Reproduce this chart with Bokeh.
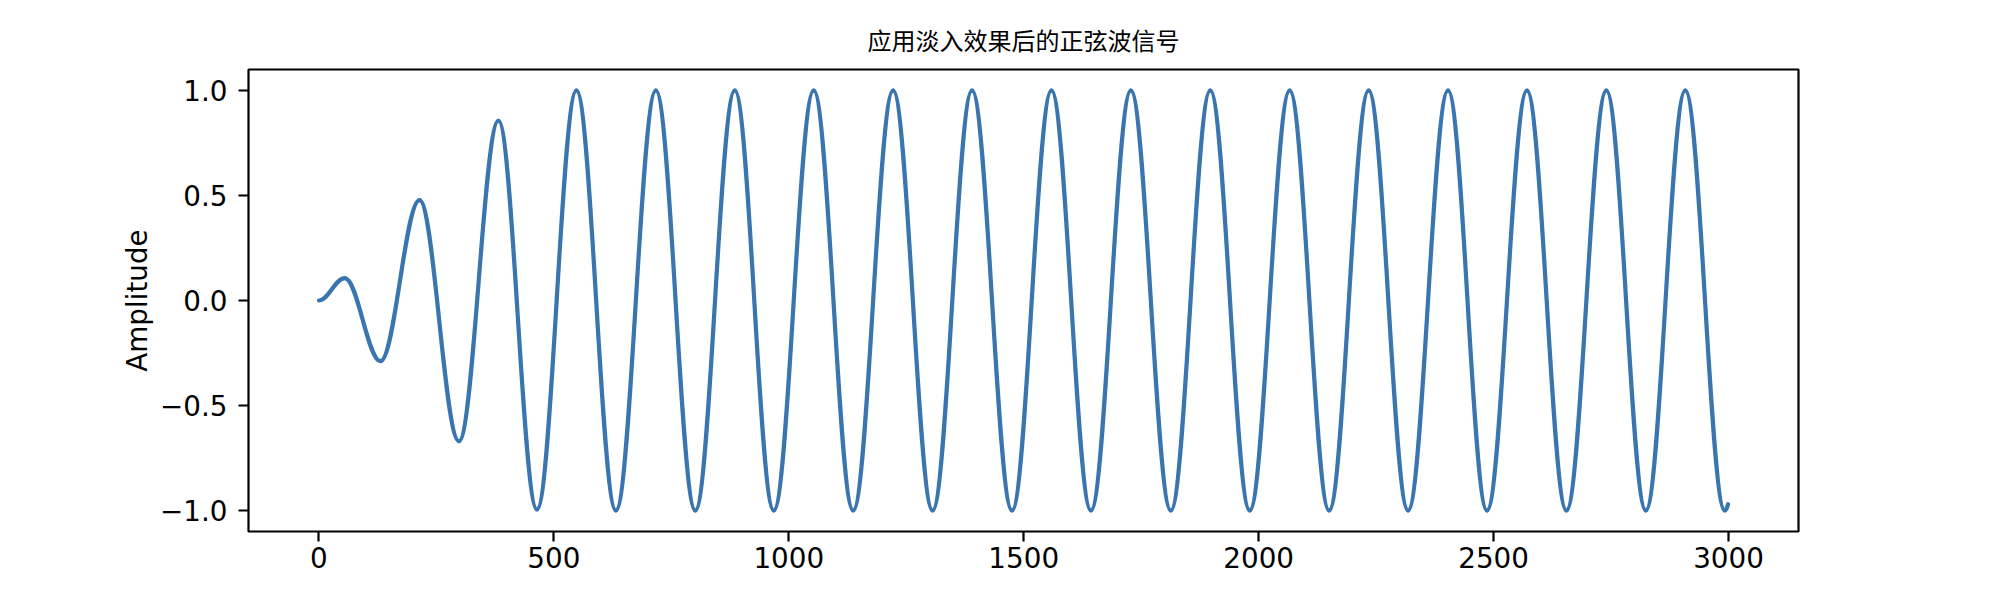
from bokeh.plotting import figure
from bokeh.models import FixedTicker, Label, Title, Range1d, ColumnDataSource
from bokeh.embed import file_html
from bokeh.resources import INLINE

# ---- texts ----
title_text = "应用淡入效果后的正弦波信号"
x_label = "Samples"
y_label = "Amplitude"

# ---- ticks ----
x_ticks = [0, 500, 1000, 1500, 2000, 2500, 3000]
x_tick_labels = ["0", "500", "1000", "1500", "2000", "2500", "3000"]
y_ticks = [-1.0, -0.5, 0.0, 0.5, 1.0]
y_tick_labels = ["\u22121.0", "\u22120.5", "0.0", "0.5", "1.0"]

# ---- signal ----
start_sample = 0
start_amp = 0.0
end_sample = 2999
end_amp = -0.97
# successive extrema (peak, trough, peak, ...) : sample index and amplitude
extrema_samples = [55, 131, 214, 298, 382, 464, 548, 632, 717, 801, 885, 968,
                   1053, 1137, 1222, 1306, 1390, 1475, 1559, 1643, 1728, 1813,
                   1897, 1981, 2066, 2150, 2234, 2318, 2403, 2486, 2571, 2655,
                   2740, 2824, 2908, 2992]
extrema_amps = [0.107, -0.289, 0.478, -0.670, 0.856, -0.995, 1.0, -1.0,
                1.0, -1.0, 1.0, -1.0, 1.0, -1.0, 1.0, -1.0, 1.0, -1.0,
                1.0, -1.0, 1.0, -1.0, 1.0, -1.0, 1.0, -1.0, 1.0, -1.0,
                1.0, -1.0, 1.0, -1.0, 1.0, -1.0, 1.0, -1.0]

LINE_COLOR = "#3a75b0"
FONT = "DejaVu Sans"

# smooth half-wave segments between successive extrema (cubic Bezier, flat tangents)
C = 0.3634
px = [start_sample] + extrema_samples
py = [start_amp] + extrema_amps
x0 = px[:-1]; y0 = py[:-1]; x1 = px[1:]; y1 = py[1:]
cx0 = [a + C * (b - a) for a, b in zip(x0, x1)]
cx1 = [b - C * (b - a) for a, b in zip(x0, x1)]
seg = ColumnDataSource(dict(x0=x0, y0=y0, x1=x1, y1=y1,
                            cx0=cx0, cy0=y0, cx1=cx1, cy1=y1))
tail = ColumnDataSource(dict(x0=[extrema_samples[-1]], y0=[extrema_amps[-1]],
                             x1=[end_sample], y1=[end_amp],
                             cx=[(extrema_samples[-1] + end_sample) / 2],
                             cy=[extrema_amps[-1]]))

pad_x = (end_sample - start_sample) * 0.05
p = figure(width=1994, height=598, output_backend="svg", toolbar_location=None,
           x_range=Range1d(start_sample - pad_x, end_sample + pad_x),
           y_range=Range1d(-1.1, 1.1),
           min_border_left=248, min_border_right=196,
           min_border_top=69, min_border_bottom=67)
p.background_fill_color = "white"
p.border_fill_color = "white"
p.outline_line_color = "black"
p.outline_line_width = 2.2
p.grid.visible = False

p.bezier(x0="x0", y0="y0", x1="x1", y1="y1", cx0="cx0", cy0="cy0",
         cx1="cx1", cy1="cy1", source=seg, line_color=LINE_COLOR,
         line_width=4.2, line_cap="round")
p.quadratic(x0="x0", y0="y0", x1="x1", y1="y1", cx="cx", cy="cy",
            source=tail, line_color=LINE_COLOR, line_width=4.2, line_cap="round")

for ax, ticks, labels in ((p.xaxis[0], x_ticks, x_tick_labels),
                          (p.yaxis[0], y_ticks, y_tick_labels)):
    ax.ticker = FixedTicker(ticks=ticks, minor_ticks=[])
    ax.major_label_overrides = {t: l for t, l in zip(ticks, labels)}
    ax.axis_line_color = None
    ax.major_tick_in = 0
    ax.major_tick_out = 10
    ax.major_tick_line_width = 2.2
    ax.major_tick_line_color = "black"
    ax.minor_tick_line_color = None
    ax.major_label_text_font = FONT
    ax.major_label_text_font_size = "27.8px"
    ax.major_label_text_color = "black"

p.xaxis.major_label_standoff = 5
p.yaxis.major_label_standoff = 11

p.yaxis.axis_label = y_label
p.yaxis.axis_label_text_font = FONT
p.yaxis.axis_label_text_font_size = "27.8px"
p.yaxis.axis_label_text_font_style = "normal"
p.yaxis.axis_label_text_color = "black"
p.yaxis.axis_label_standoff = 3

# x-axis label sits at the very bottom edge (cut off by the page edge, as in the original)
p.add_layout(Label(x=(start_sample + end_sample) / 2, y=-1.482, text=x_label,
                   text_align="center", text_baseline="alphabetic",
                   text_font=FONT, text_font_size="27.8px",
                   text_color="black", level="overlay"))

p.title = Title(text=title_text, align="center",
                text_font="Noto Sans CJK SC", text_font_size="24px",
                text_font_style="normal", text_color="black", standoff=25)

open("out.html", "w").write(file_html(p, INLINE))
